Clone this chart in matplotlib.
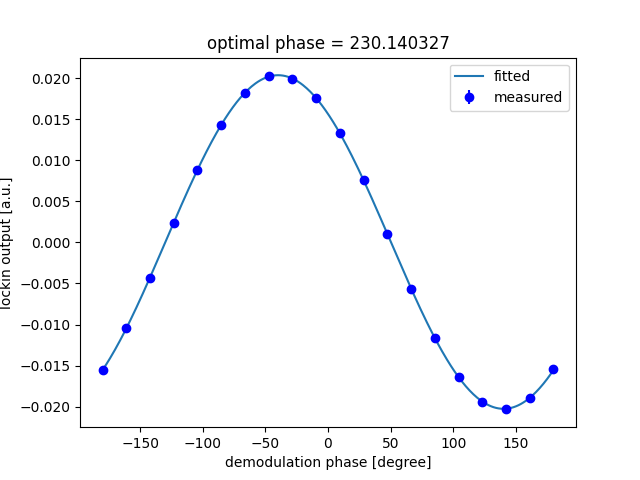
import numpy as np
import matplotlib
matplotlib.use("Agg")
import matplotlib.pyplot as plt

phase = np.linspace(-180, 180, 20)
measured = [-0.01553, -0.01045, -0.00429, 0.00236, 0.00876, 0.01432, 0.01819,
            0.02024, 0.01988, 0.01758, 0.01335, 0.00755, 0.00103, -0.00562,
            -0.01166, -0.01637, -0.01940, -0.02024, -0.01891, -0.01541]
errors = [0.0002] * 20
title = "optimal phase = 230.140327"

# least-squares sinusoid fit to the measured data
y = np.array(measured)
r = np.deg2rad(phase)
A = np.column_stack([np.cos(r), np.sin(r), np.ones_like(r)])
coef, *_ = np.linalg.lstsq(A, y, rcond=None)
xf = np.linspace(-180, 180, 361)
rf = np.deg2rad(xf)
yf = coef[0] * np.cos(rf) + coef[1] * np.sin(rf) + coef[2]

fig, ax = plt.subplots(figsize=(6.4, 4.8), dpi=100)
ax.plot(xf, yf, label="fitted")
ax.errorbar(phase, measured, yerr=errors, fmt="o", color="b", label="measured")
ax.set_xlabel("demodulation phase [degree]")
ax.set_ylabel("lockin output [a.u.]")
ax.set_title(title)
ax.legend()
fig.savefig("out.png")
